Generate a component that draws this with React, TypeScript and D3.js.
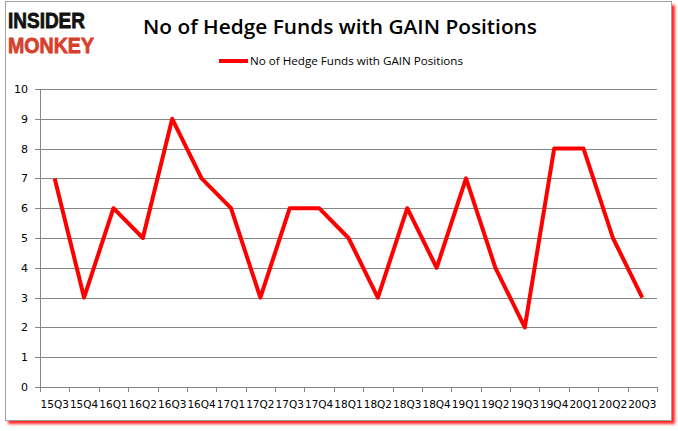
import React from "react";
import * as d3 from "d3";

const quarters = ["15Q3","15Q4","16Q1","16Q2","16Q3","16Q4","17Q1","17Q2","17Q3","17Q4","18Q1","18Q2","18Q3","18Q4","19Q1","19Q2","19Q3","19Q4","20Q1","20Q2","20Q3"];
const funds = [7,3,6,5,9,7,6,3,6,6,5,3,6,4,7,4,2,8,8,5,3];
const yTicks = [0,1,2,3,4,5,6,7,8,9,10];
const title = "No of Hedge Funds with GAIN Positions";
const seriesName = "No of Hedge Funds with GAIN Positions";

export default function App() {
  const W = 678, H = 431;
  const left = 40, right = 657, top = 89, bottom = 387;
  const x = d3.scaleBand<string>().domain(quarters).range([left, right]);
  const y = d3.scaleLinear().domain([0, 10]).range([bottom, top]);
  const line = d3.line<number>()
    .x((_, i) => (x(quarters[i]) as number) + x.bandwidth() / 2)
    .y((d) => y(d));
  const grid = "#868686";
  const font = "'DejaVu Sans', Verdana, sans-serif";
  const logoFont = "'Liberation Sans', Arial, sans-serif";
  return (
    <svg width={W} height={H} style={{ position: "fixed", left: 0, top: 0 }}>
      <defs>
        <filter id="blur" x="-5%" y="-5%" width="110%" height="110%">
          <feGaussianBlur stdDeviation="1.5" />
        </filter>
      </defs>
      <rect x={0} y={0} width={W} height={H} fill="#fff" />
      <rect x={8} y={5} width={667} height={419} fill="#ff2020" filter="url(#blur)" />
      <rect x={5.5} y={1.5} width={666} height={419} fill="#fff" stroke="#a0a0a0" strokeWidth={1} />
      {/* logo */}
      <text x={8} y={28} fontFamily={logoFont} fontWeight={900} fontSize={22} fill="#111" stroke="#111" strokeWidth={0.8} textLength={77} lengthAdjust="spacingAndGlyphs">INSIDER</text>
      <text x={8} y={53} fontFamily={logoFont} fontWeight={900} fontSize={22} fill="#d6402b" stroke="#d6402b" strokeWidth={0.8} textLength={86} lengthAdjust="spacingAndGlyphs">MONKEY</text>
      {/* title */}
      <text x={143} y={34} fontFamily="'Open Sans', sans-serif" fontWeight={600} fontSize={20} fill="#000" textLength={394} lengthAdjust="spacingAndGlyphs">{title}</text>
      {/* legend */}
      <line x1={219} x2={248} y1={61} y2={61} stroke="#ff0000" strokeWidth={4} />
      <text x={250} y={65} fontFamily="'Open Sans', sans-serif" fontSize={11.5} fill="#000" textLength={213} lengthAdjust="spacingAndGlyphs">{seriesName}</text>
      {/* grid */}
      {yTicks.map((t) => (
        <g key={t}>
          <line x1={left - 5} x2={right} y1={Math.round(y(t)) + 0.5} y2={Math.round(y(t)) + 0.5} stroke={grid} strokeWidth={1} />
          <text x={28} y={y(t) + 4} textAnchor="end" fontFamily={font} fontSize={11} fill="#000">{t}</text>
        </g>
      ))}
      <line x1={left + 0.5} x2={left + 0.5} y1={top} y2={bottom} stroke={grid} strokeWidth={1} />
      {quarters.map((q) => (
        <line key={"t" + q} x1={Math.round((x(q) as number)) + 0.5} x2={Math.round((x(q) as number)) + 0.5} y1={bottom} y2={bottom + 5} stroke={grid} />
      ))}
      <line x1={right + 0.5} x2={right + 0.5} y1={bottom} y2={bottom + 5} stroke={grid} />
      {quarters.map((q) => (
        <text key={q} x={(x(q) as number) + x.bandwidth() / 2} y={408} textAnchor="middle" fontFamily={font} fontSize={10.5} fill="#000">{q}</text>
      ))}
      <path d={line(funds) || ""} fill="none" stroke="#ff0000" strokeWidth={4} strokeLinejoin="round" />
    </svg>
  );
}
